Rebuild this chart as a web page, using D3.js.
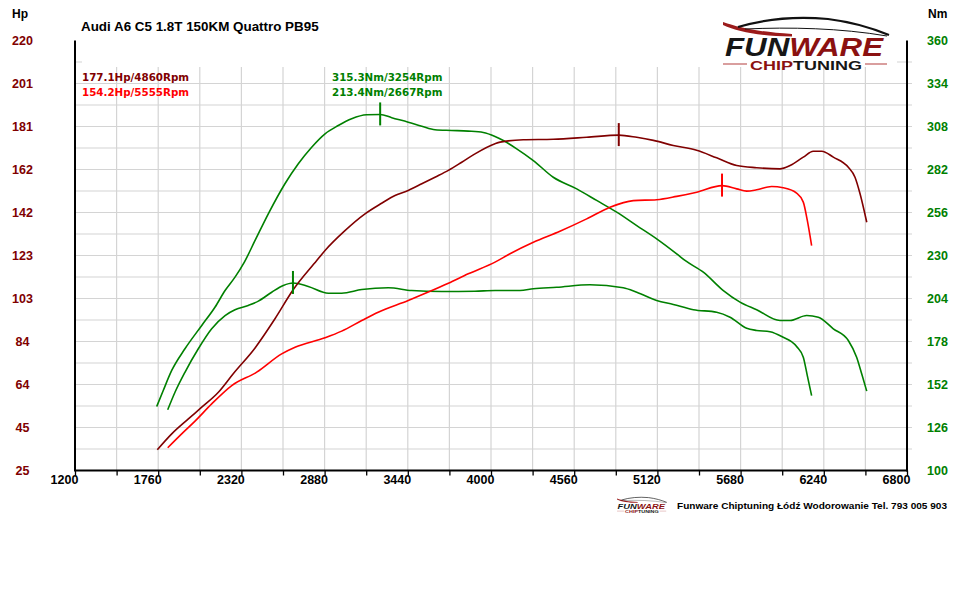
<!DOCTYPE html>
<html>
<head>
<meta charset="utf-8">
<script src="https://cdn.jsdelivr.net/npm/d3@7"></script>
<style>
  body { margin: 0; background: #fff; }
  svg text { font-family: "Liberation Sans", Arial, sans-serif; font-weight: bold; }
  svg .note { font-family: "DejaVu Sans", Verdana, sans-serif; font-size: 10.3px; }
</style>
</head>
<body>
<svg id="chart" width="960" height="589"></svg>
<script>
// --- data ---
const title = "Audi A6 C5 1.8T 150KM Quattro PB95";
const footer = "Funware Chiptuning Łódź Wodorowanie Tel. 793 005 903";

const rpmTicks = [1200, 1760, 2320, 2880, 3440, 4000, 4560, 5120, 5680, 6240, 6800];
const hpTicks = [25, 44.5, 64, 83.5, 103, 122.5, 142, 161.5, 181, 200.5, 220];
const nmTicks = [100, 126, 152, 178, 204, 230, 256, 282, 308, 334, 360];

// [rpm, Hp]
const powerTuned = [
  [1754, 34.4], [1851, 41.6], [1963, 48.4], [2053, 53.7], [2165, 60.5], [2265, 68.9],
  [2412, 80.6], [2546, 93.8], [2665, 106.6], [2827, 120.2], [2883, 124.8], [3017, 133.8],
  [3152, 141.4], [3264, 146.2], [3354, 149.7], [3443, 152.0], [3534, 155.0], [3623, 158.0],
  [3713, 161.1], [3803, 164.8], [3892, 168.6], [4027, 173.2], [4061, 173.9], [4217, 175.0],
  [4419, 175.2], [4644, 176.1], [4860, 177.1], [4981, 176.1], [5093, 174.7], [5227, 172.4],
  [5384, 170.2], [5519, 166.8], [5654, 163.3], [5788, 162.3], [5945, 161.8], [6013, 163.3],
  [6102, 167.1], [6169, 169.8], [6226, 169.8], [6304, 167.1], [6405, 162.5], [6450, 158.0],
  [6484, 150.5], [6529, 137.6]
];
const powerStock = [
  [1824, 35.3], [1918, 41.6], [2008, 47.4], [2120, 55.2], [2255, 63.5], [2423, 69.6],
  [2591, 77.9], [2681, 80.9], [2883, 85.2], [2995, 88.2], [3130, 93.0], [3241, 96.8],
  [3443, 102.1], [3578, 105.9], [3713, 109.9], [3847, 114.2], [4027, 119.5], [4128, 123.3],
  [4285, 128.5], [4464, 133.5], [4644, 139.1], [4801, 144.4], [4958, 147.4], [5115, 147.8],
  [5250, 149.3], [5385, 151.2], [5555, 154.2], [5654, 152.7], [5721, 151.7], [5788, 152.3],
  [5889, 153.8], [5967, 153.2], [6057, 150.8], [6102, 146.7], [6129, 138.4], [6158, 127.0]
];
// [rpm, Nm]
const torqueTuned = [
  [1750, 138.7], [1794, 148.4], [1851, 160.5], [1940, 173.6], [2053, 187.7], [2142, 198.7],
  [2210, 208.8], [2277, 216.9], [2340, 226.0], [2412, 239.1], [2501, 255.2], [2613, 273.4],
  [2703, 285.5], [2793, 295.5], [2883, 303.6], [2972, 308.6], [3062, 312.7], [3163, 315.1],
  [3254, 315.3], [3332, 313.3], [3443, 310.6], [3534, 308.2], [3623, 306.0], [3735, 305.6],
  [3847, 305.2], [3948, 304.4], [4027, 302.0], [4083, 299.5], [4173, 294.5], [4285, 287.4],
  [4419, 277.3], [4577, 270.3], [4711, 263.3], [4846, 256.2], [4981, 248.1], [5115, 240.1],
  [5250, 231.0], [5306, 227.0], [5429, 219.9], [5564, 208.8], [5676, 201.8], [5788, 197.2],
  [5945, 190.7], [6013, 190.7], [6125, 193.7], [6203, 192.7], [6304, 185.7], [6405, 178.6],
  [6461, 168.5], [6495, 158.5], [6529, 148.0]
];
const torqueStock = [
  [1824, 136.7], [1873, 147.3], [1940, 159.4], [2030, 173.6], [2120, 185.7], [2210, 193.7],
  [2277, 197.2], [2366, 199.8], [2434, 202.4], [2524, 207.8], [2602, 211.9], [2667, 213.4],
  [2770, 211.3], [2905, 207.2], [2995, 207.2], [3130, 209.4], [3309, 210.5], [3466, 208.8],
  [3668, 208.2], [3892, 208.4], [4027, 208.8], [4195, 208.8], [4285, 209.9], [4442, 210.8],
  [4666, 212.3], [4890, 210.5], [4981, 207.8], [5115, 202.8], [5227, 200.4], [5362, 197.2],
  [5519, 195.7], [5609, 192.7], [5721, 186.0], [5788, 184.7], [5878, 183.9], [5957, 181.0],
  [6057, 175.0], [6102, 168.5], [6129, 157.4], [6158, 145.3]
];

// peaks: [rpm, value]
const peakPowerTuned = [4860, 177.1];
const peakPowerStock = [5555, 154.2];
const peakTorqueTuned = [3254, 315.3];
const peakTorqueStock = [2667, 213.4];

const darkRed = "#800000", red = "#ff0000", green = "#008000";

const svg = d3.select("#chart");

const plotL = 75, plotR = 907, plotT = 40.5, plotB = 470.5;

const x = d3.scaleLinear().domain([1200, 6800]).range([plotL, plotR]);
const yHp = d3.scaleLinear().domain([25, 220]).range([plotB, plotT]);
const yNm = d3.scaleLinear().domain([100, 360]).range([plotB, plotT]);

// grid (every half step)
const grid = svg.append("g").attr("stroke", "#d4d4d4").attr("stroke-width", 1.2);
d3.range(1, 20).forEach(i => {
  const v = 1200 + i * 280;
  grid.append("line").attr("x1", x(v)).attr("x2", x(v)).attr("y1", plotT).attr("y2", plotB);
  const h = 25 + i * 9.75;
  grid.append("line").attr("x1", plotL).attr("x2", plotR + 5).attr("y1", yHp(h)).attr("y2", yHp(h));
});
// header band hides the top of the grid
svg.append("rect").attr("x", 82).attr("y", plotT - 2).attr("width", 815).attr("height", 28.5).attr("fill", "#fff");

// axes
const axisG = svg.append("g").attr("stroke", "#000").attr("stroke-width", 2);
axisG.append("line").attr("x1", plotL).attr("x2", plotL).attr("y1", plotT).attr("y2", plotB + 1);
axisG.append("line").attr("x1", plotR).attr("x2", plotR).attr("y1", plotT).attr("y2", plotB + 1);

const xAxis = d3.axisBottom(x)
  .tickValues(d3.range(0, 21).map(i => 1200 + i * 280))
  .tickSize(5)
  .tickFormat(d => rpmTicks.includes(d) ? d : "");
const gx = svg.append("g").attr("transform", `translate(0,${plotB})`).call(xAxis);
gx.select(".domain").attr("stroke-width", 2).attr("d", `M${plotL},0H${plotR}`);
gx.selectAll(".tick line").attr("stroke-width", 1.3);
gx.selectAll(".tick text")
  .attr("fill", "#000")
  .attr("font-size", 12.5)
  .attr("dx", -11)
  .attr("dy", 5);

// y labels
svg.append("g").selectAll("text").data(hpTicks).join("text")
  .attr("x", 22.5).attr("y", d => yHp(d) + 4.5)
  .attr("text-anchor", "middle").attr("font-size", 12.5).attr("fill", darkRed)
  .text(d => Math.round(d));
svg.append("g").selectAll("text").data(nmTicks).join("text")
  .attr("x", 937.5).attr("y", d => yNm(d) + 4.5)
  .attr("text-anchor", "middle").attr("font-size", 12.5).attr("fill", green)
  .text(d => d);

svg.append("text").attr("x", 12).attr("y", 18).attr("font-size", 12).attr("fill", "#000").text("Hp");
svg.append("text").attr("x", 928).attr("y", 18).attr("font-size", 12).attr("fill", "#000").text("Nm");

svg.append("text").attr("x", 81).attr("y", 31).attr("font-size", 13.4).attr("fill", "#000").text(title);

// curves
const hpLine = d3.line().x(d => x(d[0])).y(d => yHp(d[1])).curve(d3.curveMonotoneX);
const nmLine = d3.line().x(d => x(d[0])).y(d => yNm(d[1])).curve(d3.curveMonotoneX);

const curves = svg.append("g").attr("fill", "none").attr("stroke-width", 1.6).attr("stroke-linejoin", "round");
curves.append("path").attr("d", nmLine(torqueStock)).attr("stroke", green);
curves.append("path").attr("d", nmLine(torqueTuned)).attr("stroke", green);
curves.append("path").attr("d", hpLine(powerStock)).attr("stroke", red);
curves.append("path").attr("d", hpLine(powerTuned)).attr("stroke", darkRed);

// peak markers
const markers = [
  [peakTorqueTuned, yNm, green],
  [peakTorqueStock, yNm, green],
  [peakPowerTuned, yHp, darkRed],
  [peakPowerStock, yHp, red]
];
svg.append("g").selectAll("line").data(markers).join("line")
  .attr("x1", d => x(d[0][0])).attr("x2", d => x(d[0][0]))
  .attr("y1", d => d[1](d[0][1]) - 12).attr("y2", d => d[1](d[0][1]) + 11)
  .attr("stroke", d => d[2]).attr("stroke-width", 2);

// peak annotations
const notes = svg.append("g");
notes.append("text").attr("class", "note").attr("x", 82).attr("y", 81).attr("fill", darkRed)
  .text(`${peakPowerTuned[1]}Hp/${peakPowerTuned[0]}Rpm`);
notes.append("text").attr("class", "note").attr("x", 82).attr("y", 95.5).attr("fill", red)
  .text(`${peakPowerStock[1]}Hp/${peakPowerStock[0]}Rpm`);
notes.append("text").attr("class", "note").attr("x", 332).attr("y", 81).attr("fill", green)
  .text(`${peakTorqueTuned[1]}Nm/${peakTorqueTuned[0]}Rpm`);
notes.append("text").attr("class", "note").attr("x", 332).attr("y", 95.5).attr("fill", green)
  .text(`${peakTorqueStock[1]}Nm/${peakTorqueStock[0]}Rpm`);

// logo
function drawLogo(g) {
  g.append("path")
    .attr("d", "M723,22 C740,28 760,32 792,34 L792,36.5 C760,36 738,32 723,25 Z")
    .attr("fill", "#9b1b1b");
  g.append("path")
    .attr("d", "M738,27 C765,19 795,16 828,19 C852,22 872,28 889,35")
    .attr("fill", "none").attr("stroke", "#111").attr("stroke-width", 2.2);
  g.append("path")
    .attr("d", "M745,29 C790,27 840,28 887,36")
    .attr("fill", "none").attr("stroke", "#111").attr("stroke-width", 1);
  const t = g.append("text").attr("x", 725).attr("y", 56)
    .attr("font-size", 23).attr("font-style", "italic")
    .attr("transform", "translate(0,56) scale(1,1.1) translate(0,-56)")
    .attr("textLength", 158).attr("lengthAdjust", "spacingAndGlyphs");
  t.append("tspan").attr("fill", "#161616").text("FUN");
  t.append("tspan").attr("fill", "#8b1111").text("WARE");
  const c = g.append("text").attr("x", 750).attr("y", 70)
    .attr("font-size", 13)
    .attr("textLength", 112).attr("lengthAdjust", "spacingAndGlyphs");
  c.append("tspan").attr("fill", "#8b1111").text("CHIP");
  c.append("tspan").attr("fill", "#161616").text("TUNING");
  g.append("line").attr("x1", 723).attr("x2", 747).attr("y1", 64).attr("y2", 64)
    .attr("stroke", "#c46a6a").attr("stroke-width", 1.3);
  g.append("line").attr("x1", 865).attr("x2", 887).attr("y1", 64).attr("y2", 64)
    .attr("stroke", "#c46a6a").attr("stroke-width", 1.3);
}
drawLogo(svg.append("g"));
drawLogo(svg.append("g").attr("transform", "translate(400.1,491.9) scale(0.3)"));

svg.append("text").attr("x", 677).attr("y", 508.5).attr("font-size", 9.6).attr("fill", "#000")
  .attr("textLength", 270).attr("lengthAdjust", "spacingAndGlyphs")
  .text(footer);
</script>
</body>
</html>
